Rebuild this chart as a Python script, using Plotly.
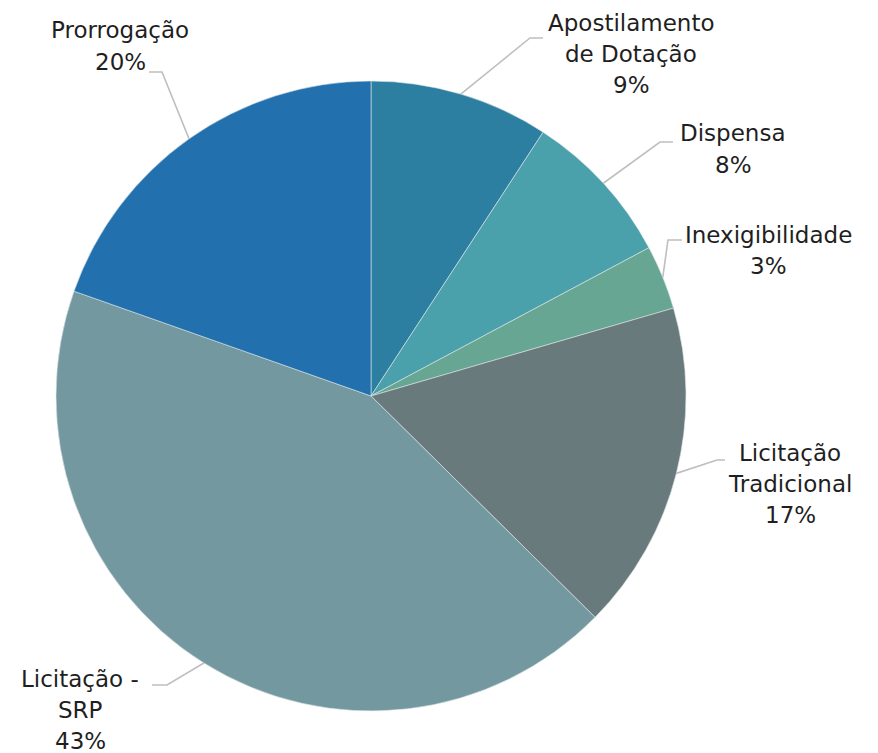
import math
import plotly.graph_objects as go

# ---- data ----
labels = ["Apostilamento<br>de Dotação", "Dispensa", "Inexigibilidade",
          "Licitação<br>Tradicional", "Licitação -<br>SRP", "Prorrogação"]
values = [9.2, 8.0, 3.3, 16.9, 43.0, 19.6]
colors = ["#2D7FA2", "#4AA0AB", "#67A692", "#697A7C", "#7398A0", "#2270AD"]

# ---- layout constants (pixels, screenshot coords) ----
W, H = 878, 753
OFF = 8  # page body margin
CX, CY, R = 371, 396, 315
LINE_H = 31
# label block centre, leader elbow, leader end  (layout only)
label_layout = [
    ((631, 54), (530, 38), (543, 38)),
    ((733, 149), (660, 142), (673, 142)),
    ((768, 251), (668, 240), (682, 240)),
    ((790, 484), (717, 460), (725, 460)),
    ((80, 710), (167, 685), (152, 685)),
    ((120, 46), (162, 72), (149, 72)),
]
FONT = dict(family="'DejaVu Sans ExtraLight', 'DejaVu Sans', sans-serif", size=23, color="#1F1F1F")


def px(x):
    return (x - OFF) / W


def py(y):
    return 1 - (y - OFF) / H


fig = go.Figure(go.Pie(
    labels=labels, values=values, sort=False, direction="clockwise", rotation=0,
    marker=dict(colors=colors, line=dict(color="#DDE6E8", width=0.6)),
    textinfo="none", hoverinfo="label+percent", showlegend=False,
    domain=dict(x=[px(CX - R), px(CX + R)], y=[py(CY + R), py(CY - R)]),
))

total = sum(values)
cum = 0.0
shapes, annotations = [], []
for lab, v, (tc, el, en) in zip(labels, values, label_layout):
    mid = (cum + v / 2) / total * 2 * math.pi
    cum += v
    sx = CX + R * math.sin(mid)
    sy = CY - R * math.cos(mid)
    path = f"M {px(sx)} {py(sy)} L {px(el[0])} {py(el[1])} L {px(en[0])} {py(en[1])}"
    shapes.append(dict(type="path", xref="paper", yref="paper", path=path,
                       line=dict(color="#BFBFBF", width=1.6)))
    pct = round(v / total * 100)
    lines = lab.split("<br>") + [f"{pct}%"]
    y0 = tc[1] - (len(lines) - 1) * LINE_H / 2
    for i, t in enumerate(lines):
        annotations.append(dict(x=px(tc[0]), y=py(y0 + i * LINE_H), xref="paper", yref="paper",
                                text=t, showarrow=False,
                                xanchor="center", yanchor="middle", align="center",
                                font=FONT))

fig.update_layout(width=W, height=H, margin=dict(l=0, r=0, t=0, b=0),
                  paper_bgcolor="white", plot_bgcolor="white",
                  shapes=shapes, annotations=annotations)
fig.write_html("out.html")
